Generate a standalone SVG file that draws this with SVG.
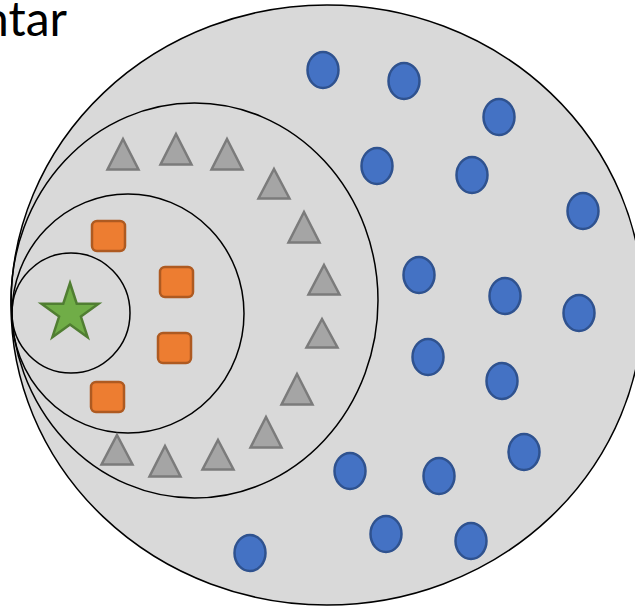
<svg xmlns="http://www.w3.org/2000/svg" width="635" height="607" viewBox="0 0 635 607">
<style>
.ring{fill:#D9D9D9;stroke:#000;stroke-width:1.5}
.ringn{fill:none;stroke:#000;stroke-width:1.5}
.tri{fill:#A5A5A5;stroke:#7B7B7B;stroke-width:2.5;stroke-linejoin:miter}
.sq{fill:#ED7D31;stroke:#AE5A21;stroke-width:2.5}
.dot{fill:#4472C4;stroke:#2F528F;stroke-width:2.5}
.star{fill:#70AD47;stroke:#507E32;stroke-width:2.5}
.lbl{font-family:Lato,"Open Sans",sans-serif;font-size:48px;fill:#000}
</style>
<rect width="635" height="607" fill="#fff"/>
<text class="lbl" x="67" y="36" text-anchor="end">ntar</text>
<g id="rings">
<ellipse id="ring4" class="ring" cx="327" cy="305" rx="316" ry="300"/>
<ellipse id="ring3" class="ringn" cx="194.5" cy="300.5" rx="183.5" ry="197.5"/>
<ellipse id="ring2" class="ringn" cx="128" cy="313.5" rx="116" ry="119.5"/>
<ellipse id="ring1" class="ringn" cx="71" cy="313" rx="59" ry="60"/>
</g>
<g id="star"><path class="star" d="M70,283 L76.74,303.73 L98.53,303.73 L80.90,316.54 L87.63,337.27 L70,324.46 L52.37,337.27 L59.10,316.54 L41.47,303.73 L63.26,303.73 Z"/></g>
<g id="squares">
<rect class="sq" x="92" y="221" width="33" height="30" rx="5"/>
<rect class="sq" x="160" y="267" width="33" height="30" rx="5"/>
<rect class="sq" x="158" y="333" width="33" height="30" rx="5"/>
<rect class="sq" x="91" y="382" width="33" height="30" rx="5"/>
</g>
<g id="triangles">
<path class="tri" d="M123,139 L138.5,169.5 L107.5,169.5 Z"/>
<path class="tri" d="M176,134 L191.5,164.5 L160.5,164.5 Z"/>
<path class="tri" d="M227,139 L242.5,169.5 L211.5,169.5 Z"/>
<path class="tri" d="M274,169 L289.5,198.5 L258.5,198.5 Z"/>
<path class="tri" d="M304,212 L319.5,242.5 L288.5,242.5 Z"/>
<path class="tri" d="M324,265 L339.5,294.5 L308.5,294.5 Z"/>
<path class="tri" d="M322,319 L337.5,347.5 L306.5,347.5 Z"/>
<path class="tri" d="M297,374 L312.5,404.5 L281.5,404.5 Z"/>
<path class="tri" d="M266,417 L281.5,447.5 L250.5,447.5 Z"/>
<path class="tri" d="M218,440 L233.5,469.5 L202.5,469.5 Z"/>
<path class="tri" d="M165,446 L180.5,476.5 L149.5,476.5 Z"/>
<path class="tri" d="M117,435 L132.5,464.5 L101.5,464.5 Z"/>
</g>
<g id="dots">
<ellipse class="dot" cx="323" cy="70" rx="15.5" ry="18"/>
<ellipse class="dot" cx="404" cy="81" rx="15.5" ry="18"/>
<ellipse class="dot" cx="499" cy="117" rx="15.5" ry="18"/>
<ellipse class="dot" cx="377" cy="166" rx="15.5" ry="18"/>
<ellipse class="dot" cx="472" cy="175" rx="15.5" ry="18"/>
<ellipse class="dot" cx="583" cy="211" rx="15.5" ry="18"/>
<ellipse class="dot" cx="419" cy="275" rx="15.5" ry="18"/>
<ellipse class="dot" cx="505" cy="296" rx="15.5" ry="18"/>
<ellipse class="dot" cx="579" cy="313" rx="15.5" ry="18"/>
<ellipse class="dot" cx="428" cy="357" rx="15.5" ry="18"/>
<ellipse class="dot" cx="502" cy="381" rx="15.5" ry="18"/>
<ellipse class="dot" cx="524" cy="452" rx="15.5" ry="18"/>
<ellipse class="dot" cx="350" cy="471" rx="15.5" ry="18"/>
<ellipse class="dot" cx="439" cy="476" rx="15.5" ry="18"/>
<ellipse class="dot" cx="386" cy="534" rx="15.5" ry="18"/>
<ellipse class="dot" cx="471" cy="541" rx="15.5" ry="18"/>
<ellipse class="dot" cx="250" cy="553" rx="15.5" ry="18"/>
</g>
</svg>
